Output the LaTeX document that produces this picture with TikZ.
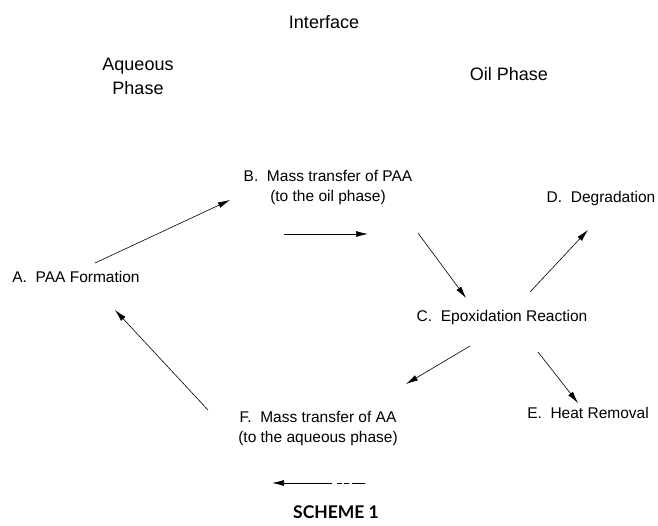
\documentclass[tikz,border=0pt]{standalone}
\usepackage{fontspec}
\setmainfont{Liberation Sans}
\newfontfamily\schemefont{Lato}
\usetikzlibrary{arrows.meta}
\tikzset{
  lbl/.style={font=\fontsize{15.5}{20}\selectfont, align=center, inner sep=0pt},
  head/.style={font=\fontsize{18}{24}\selectfont, align=center, inner sep=0pt},
  arr/.style={-{Latex[length=12pt,width=6pt]}, line width=0.6pt}
}
\begin{document}
\begin{tikzpicture}[x=1pt,y=-1pt]
	\useasboundingbox (0,0) rectangle (658,525);
	%\draw [help lines, step=50] (0,0) grid (658,525);

	\node[head] (iface) at (324,22) {Interface};
	\node[head] (aqueous) at (138,76) {Aqueous\\Phase};
	\node[head] (oil) at (509,74) {Oil Phase};

	\node[lbl] (A) at (76,277) {A.~ PAA Formation};
	\node[lbl] (B) at (328,187) {B.~ Mass transfer of PAA\\(to the oil phase)};
	\node[lbl] (C) at (502,317) {C.~ Epoxidation Reaction};
	\node[lbl] (D) at (601,198) {D.~ Degradation};
	\node[lbl] (E) at (588,413) {E.~ Heat Removal};
	\node[lbl] (F) at (318,428) {F.~ Mass transfer of AA\\(to the aqueous phase)};

	\node[font=\schemefont\bfseries\fontsize{17.5}{20}\selectfont, inner sep=0pt] (scheme) at (336,512) {SCHEME 1};

	\coordinate (a1) at (95,263);   \coordinate (b1) at (230,200);
	\coordinate (b2) at (284,234);  \coordinate (b3) at (368,234);
	\coordinate (b4) at (418,233);  \coordinate (c1) at (466,298);
	\coordinate (c2) at (530,292);  \coordinate (d1) at (588,230);
	\coordinate (c3) at (470,346);  \coordinate (f1) at (406,384);
	\coordinate (c4) at (538,352);  \coordinate (e1) at (578,403);
	\coordinate (f2) at (365,483);  \coordinate (f3) at (272,483);
	\coordinate (f4) at (208,410);  \coordinate (a2) at (115,310);

	\draw[arr] (a1) -- (b1);
	\draw[arr] (b2) -- (b3);
	\draw[arr] (b4) -- (c1);
	\draw[arr] (c2) -- (d1);
	\draw[arr] (c3) -- (f1);
	\draw[arr] (c4) -- (e1);
	\draw[arr, dash pattern=on 13pt off 3pt on 5pt off 2pt on 5pt off 5pt on 70pt] (f2) -- (f3);
	\draw[arr] (f4) -- (a2);
\end{tikzpicture}
\end{document}
